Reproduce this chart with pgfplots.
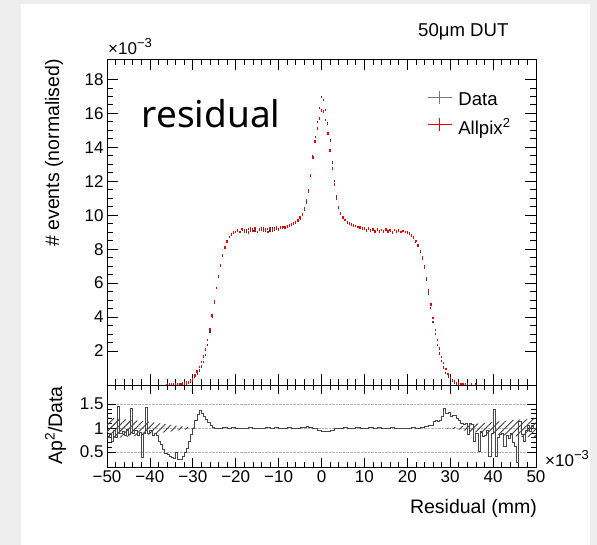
\documentclass[border=0pt]{standalone}
\usepackage{fontspec}
\setmainfont{Liberation Sans}
\newfontfamily\resfont{Noto Sans}
\usepackage{pgfplots}
\pgfplotsset{compat=1.18}
\usetikzlibrary{patterns.meta}
\definecolor{bggray}{RGB}{238,238,238}
\definecolor{datagray}{RGB}{60,60,60}
\definecolor{legray}{RGB}{120,120,120}
\definecolor{apred}{RGB}{235,0,0}

\pgfplotstableread{
x y
-36 0.02
-35.5 0.02
-35 0.03
-34.5 0.03
-34 0.04
-33.5 0.05
-33 0.06
-32.5 0.08
-32 0.10
-31.5 0.14
-31 0.19
-30.5 0.26
-30 0.36
-29.5 0.50
-29 0.66
-28.5 0.86
-28 1.08
-27.5 1.36
-27 1.75
-26.5 2.35
-26 3.15
-25.5 4.0
-25 4.85
-24.5 5.7
-24 6.4
-23.5 7.05
-23 7.6
-22.5 8.1
-22 8.45
-21.5 8.7
-21 8.85
-20.5 8.95
-20 9.02
-19.5 9.08
-19 9.00
-18.5 9.16
-18 9.10
-17.5 9.02
-17 9.18
-16.5 9.06
-16 9.15
-15.5 9.11
-15 9.01
-14.5 9.19
-14 9.12
-13.5 9.22
-13 9.06
-12.5 9.17
-12 9.10
-11.5 9.24
-11 9.14
-10.5 9.22
-10 9.18
-9.5 9.25
-9 9.27
-8.5 9.30
-8 9.33
-7.5 9.38
-7 9.42
-6.5 9.48
-6 9.55
-5.5 9.65
-5 9.80
-4.5 10.0
-4 10.3
-3.5 10.75
-3 11.35
-2.5 12.3
-2 13.5
-1.5 14.6
-1 15.5
-0.5 16.3
0 16.95
0.5 16.8
1 16.2
1.5 15.4
2 14.4
2.5 13.1
3 12.0
3.5 11.1
4 10.45
4.5 10.1
5 9.85
5.5 9.70
6 9.58
6.5 9.50
7 9.44
7.5 9.40
8 9.35
8.5 9.30
9 9.27
9.5 9.24
10 9.20
10.5 9.14
11 9.19
11.5 9.10
12 9.16
12.5 9.08
13 9.14
13.5 9.03
14 9.13
14.5 9.06
15 9.15
15.5 9.04
16 9.10
16.5 9.02
17 9.12
17.5 9.05
18 9.09
18.5 9.00
19 9.06
19.5 9.00
20 8.97
20.5 8.90
21 8.80
21.5 8.65
22 8.45
22.5 8.20
23 7.85
23.5 7.45
24 6.90
24.5 6.20
25 5.40
25.5 4.55
26 3.70
26.5 3.00
27 2.35
27.5 1.85
28 1.40
28.5 1.02
29 0.72
29.5 0.50
30 0.34
30.5 0.23
31 0.15
31.5 0.10
32 0.07
32.5 0.05
33 0.04
33.5 0.03
34 0.03
35 0.02
36 0.02
}\datatab

\pgfplotstableread{
x y
-36 0.01
-35.5 0.01
-35 0.012
-34.5 0.012
-34 0.015
-33.5 0.02
-33 0.025
-32.5 0.04
-32 0.055
-31.5 0.08
-31 0.13
-30.5 0.20
-30 0.33
-29.5 0.55
-29 0.78
-28.5 1.05
-28 1.35
-27.5 1.68
-27 2.08
-26.5 2.65
-26 3.30
-25.5 4.10
-25 4.90
-24.5 5.72
-24 6.42
-23.5 7.05
-23 7.62
-22.5 8.10
-22 8.45
-21.5 8.72
-21 8.88
-20.5 8.98
-20 9.00
-19.5 9.14
-19 9.00
-18.5 9.18
-18 9.04
-17.5 9.14
-17 8.98
-16.5 9.20
-16 9.08
-15.5 9.22
-15 9.02
-14.5 9.12
-14 9.24
-13.5 9.06
-13 9.17
-12.5 9.02
-12 9.24
-11.5 9.10
-11 9.20
-10.5 9.26
-10 9.14
-9.5 9.26
-9 9.30
-8.5 9.28
-8 9.36
-7.5 9.40
-7 9.45
-6.5 9.52
-6 9.58
-5.5 9.70
-5 9.85
-4.5 10.05
-4 10.4
-3.5 10.85
-3 11.45
-2.5 12.35
-2 13.4
-1.5 14.35
-1 15.1
-0.5 15.7
0 16.15
0.5 16.1
1 15.6
1.5 14.8
2 13.8
2.5 12.75
3 11.8
3.5 11.0
4 10.45
4.5 10.1
5 9.88
5.5 9.72
6 9.60
6.5 9.52
7 9.46
7.5 9.38
8 9.36
8.5 9.30
9 9.28
9.5 9.22
10 9.20
10.5 9.10
11 9.22
11.5 9.06
12 9.18
12.5 9.04
13 9.16
13.5 9.02
14 9.14
14.5 9.00
15 9.16
15.5 9.05
16 9.12
16.5 8.99
17 9.13
17.5 9.03
18 9.10
18.5 9.00
19 9.08
19.5 9.00
20 8.98
20.5 8.92
21 8.82
21.5 8.68
22 8.48
22.5 8.24
23 7.90
23.5 7.50
24 6.98
24.5 6.30
25 5.55
25.5 4.75
26 3.95
26.5 3.25
27 2.65
27.5 2.15
28 1.65
28.5 1.30
29 0.95
29.5 0.65
30 0.42
30.5 0.29
31 0.19
31.5 0.12
32 0.08
32.5 0.055
33 0.04
33.5 0.03
34 0.025
35 0.015
36 0.01
}\aptab

\pgfplotstableread{
x y
-50 0.80
-49.5 0.90
-49 0.72
-48.5 0.95
-48 0.80
-47.5 1.46
-47 0.88
-46.5 0.93
-46 0.85
-45.5 0.98
-45 0.86
-44.5 1.42
-44 0.90
-43.5 0.95
-43 0.84
-42.5 0.92
-42 0.39
-41.5 0.90
-41 1.43
-40.5 0.88
-40 0.95
-39.5 0.85
-39 0.90
-38.5 0.85
-38 0.72
-37.5 0.66
-37 0.55
-36.5 0.48
-36 0.45
-35.5 0.42
-35 0.38
-34.5 0.37
-34 0.50
-33.5 0.35
-33 0.34
-32.5 0.42
-32 0.50
-31.5 0.58
-31 0.72
-30.5 0.86
-30 1.00
-29.5 1.17
-29 1.28
-28.5 1.36
-28 1.30
-27.5 1.25
-27 1.18
-26.5 1.12
-26 1.05
-25.5 1.02
-25 1.00
-24 0.99
-23 1.01
-22 0.995
-21 1.005
-20 0.99
-19 1.00
-18 0.99
-17 1.01
-16 0.995
-15 1.00
-14 0.99
-13 1.005
-12 0.995
-11 1.01
-10 0.99
-9 1.00
-8 1.005
-7 0.99
-6 1.00
-5 1.01
-4 1.02
-3.5 1.03
-3 1.01
-2 0.99
-1 0.95
0 0.935
1 0.94
2 0.96
3 0.99
4 1.00
5 1.005
6 0.995
7 1.00
8 1.01
9 0.99
10 1.00
11 1.005
12 0.995
13 1.01
14 0.99
15 1.00
16 1.005
17 0.995
18 1.00
19 0.99
20 1.00
21 1.005
22 1.00
23 1.01
24 1.04
25 1.06
26 1.13
26.5 1.16
27 1.15
27.5 1.17
28 1.24
28.5 1.41
29 1.31
29.5 1.33
30 1.24
30.5 1.27
31 1.26
31.5 1.20
32 1.17
32.5 1.10
33 1.07
33.5 1.10
34 0.86
34.5 1.10
35 1.07
35.5 0.72
36 0.88
36.5 0.51
37 0.93
37.5 0.83
38 0.85
38.5 0.95
39 0.40
39.5 0.90
40 1.38
40.5 0.42
41 0.80
41.5 0.86
42 0.90
42.5 0.62
43 0.85
43.5 0.79
44 0.90
44.5 0.70
45 0.62
45.5 0.28
46 1.13
46.5 0.86
47 0.72
47.5 0.95
48 1.06
48.5 0.93
49 1.05
49.5 1.00
50 1.00
}\ratiotab

\pgfplotsset{rootaxis/.style={
  scale only axis, width=429bp, xmin=-50, xmax=50,
  anchor=south west,
  tick align=inside,
  axis line style={line width=0.9bp},
  every tick/.style={black, line width=0.7bp},
  xtick pos=both, ytick pos=both,
  xticklabel pos=lower, yticklabel pos=left,
  xtick={-50,-40,-30,-20,-10,0,10,20,30,40,50},
  minor x tick num=4,
  /pgf/number format/assume math mode=true,
  ticklabel style={font=\fontsize{17bp}{20bp}\selectfont},
  clip=false,
},
crosslegend/.style={legend image code/.code={%
  \draw[##1, line width=1.1bp] (0bp,2.5bp) -- (24bp,2.5bp) (12bp,-4bp) -- (12bp,9bp);}}
}

\begin{document}
\begin{tikzpicture}
\fill[bggray] (0bp,0bp) rectangle (597bp,545bp);
\fill[white] (21bp,0bp) rectangle (590bp,541bp);
\useasboundingbox (0bp,0bp) rectangle (597bp,545bp);

\begin{axis}[rootaxis,
  at={(107bp,160bp)}, height=326bp,
  ymin=0, ymax=19.2,
  major tick length=11bp, minor tick length=6bp,
  ytick={2,4,6,8,10,12,14,16,18},
  yticklabels={2,4,6,8,10,12,14,16,18},
  minor y tick num=3,
  xticklabels={},
  legend style={draw=none, fill=none, inner sep=0pt,
    at={(0.746,0.905)}, anchor=north west,
    font=\fontsize{18.6bp}{22bp}\selectfont, row sep=8bp, column sep=4bp},
  legend cell align=left,
]
\addlegendimage{legray, crosslegend}
\addlegendentry{Data}
\addlegendimage{apred, crosslegend}
\addlegendentry{Allpix\textsuperscript{2}}
\addplot[only marks, mark=|, mark size=1.2bp, datagray, mark options={line width=1.1bp}, forget plot]
  table[x=x,y=y] {\datatab};
\addplot[only marks, mark=|, mark size=1.3bp, apred, mark options={line width=1.3bp}, forget plot]
  table[x=x,y=y] {\aptab};
\end{axis}

\begin{axis}[rootaxis,
  at={(107bp,78bp)}, height=82bp,
  ymin=0.19, ymax=1.9,
  major tick length=9bp, minor tick length=5bp,
  ytick={0.5,1,1.5}, yticklabels={0.5,1,1.5},
  minor y tick num=4,
  xticklabels={−50,−40,−30,−20,−10,0,10,20,30,40,50},
  ymajorgrids,
  major grid style={densely dotted, gray!60, line width=0.6bp},
]
\addplot[draw=none, pattern={Lines[angle=45,distance=4.5bp,line width=0.9bp]}, pattern color=black!75]
  coordinates {(-50,1.22) (-45,1.18) (-40,1.13) (-36,1.08) (-33,1.04) (-30,1.015) (-29,1.005)
               (-29,0.995) (-30,0.985) (-33,0.96) (-36,0.92) (-40,0.87) (-45,0.82) (-50,0.78)} -- cycle;
\addplot[draw=none, pattern={Lines[angle=45,distance=4.5bp,line width=0.9bp]}, pattern color=black!75]
  coordinates {(29,1.005) (32,1.03) (35,1.08) (40,1.13) (45,1.17) (50,1.2)
               (50,0.8) (45,0.83) (40,0.87) (35,0.92) (32,0.97) (29,0.995)} -- cycle;
\addplot[const plot, black!72, line width=0.9bp] table[x=x,y=y] {\ratiotab};
\end{axis}

\node[anchor=base east, font=\fontsize{18.6bp}{22bp}\selectfont] at (512bp,508.5bp) {50μm DUT};
\node[anchor=base west, inner sep=0pt, font=\resfont\fontsize{37bp}{44bp}\selectfont] at (141.5bp,417bp) {residual};
\node[anchor=base west, inner sep=0pt, font=\fontsize{17bp}{18bp}\selectfont] at (108bp,490bp) {×10\raisebox{0.42em}{\fontsize{13bp}{13bp}\selectfont −3}};
\node[anchor=base west, inner sep=0pt, font=\fontsize{17bp}{18bp}\selectfont] at (545bp,78bp) {×10\raisebox{0.42em}{\fontsize{13bp}{13bp}\selectfont −3}};
\node[anchor=base east, inner sep=0pt, font=\fontsize{19.5bp}{23bp}\selectfont] at (537bp,32bp) {Residual (mm)};
\node[rotate=90, anchor=base east, inner sep=0pt, font=\fontsize{19.5bp}{23bp}\selectfont] at (59bp,486bp) {\# events (normalised)};
\node[rotate=90, anchor=base east, inner sep=0pt, font=\fontsize{19.5bp}{23bp}\selectfont] at (62bp,159bp) {Ap\textsuperscript{2}/Data};
\end{tikzpicture}
\end{document}
